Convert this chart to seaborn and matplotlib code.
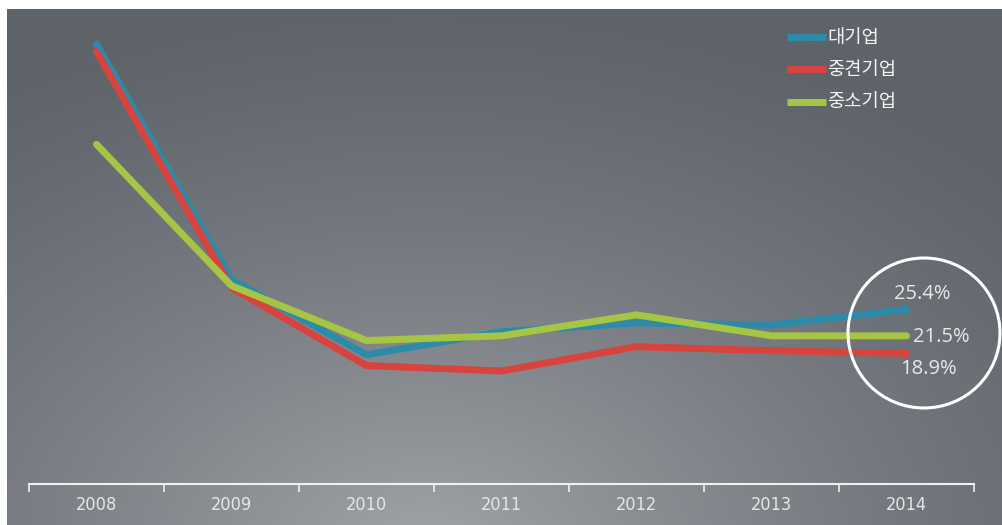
import matplotlib
matplotlib.use("Agg")
import matplotlib.pyplot as plt
import matplotlib.patches as mpatches
import numpy as np
import pandas as pd
import seaborn as sns

sns.set_style("white")
plt.rcParams["font.family"] = ["Noto Sans CJK KR", "DejaVu Sans"]

years = ["2008", "2009", "2010", "2011", "2012", "2013", "2014"]
large = [64.6, 29.8, 18.7, 22.1, 23.4, 23.1, 25.4]
middle = [63.5, 28.6, 17.1, 16.3, 19.9, 19.3, 18.9]
small = [49.8, 28.9, 20.8, 21.5, 24.6, 21.5, 21.5]
series_names = ["대기업", "중견기업", "중소기업"]
end_labels = ["25.4%", "21.5%", "18.9%"]

colors = ["#2b8ba9", "#d8433e", "#a6c544"]

df = pd.DataFrame({
    "year": list(range(len(years))) * 3,
    "value": large + middle + small,
    "group": np.repeat(series_names, len(years)),
})

W, H = 1003, 525
fig = plt.figure(figsize=(W / 100, H / 100), dpi=100)
fig.patch.set_facecolor("white")

# gradient background (dark top, lighter bottom centre)
bg = fig.add_axes([7 / W, 0, 1 - 7 / W, 1 - 9 / H])
bg.set_axis_off()
ny, nx = 200, 400
yy, xx = np.mgrid[0:1:ny * 1j, 0:1:nx * 1j]
dist = np.sqrt(((xx - 0.42) * 1.3) ** 2 + ((yy - 1.05) * 1.0) ** 2)
t = np.clip(1 - dist / 1.1, 0, 1) ** 1.3
dark = np.array([94, 99, 106]) / 255
light = np.array([160, 163, 167]) / 255
img = dark[None, None, :] * (1 - t[..., None]) + light[None, None, :] * t[..., None]
bg.imshow(img, aspect="auto", extent=[0, 1, 0, 1], origin="upper")
bg.set_xlim(0, 1)
bg.set_ylim(0, 1)

ax = fig.add_axes([29 / W, (H - 484) / H, 945 / W, 475 / H])
ax.patch.set_alpha(0)
sns.lineplot(data=df, x="year", y="value", hue="group", palette=colors,
             linewidth=5, ax=ax, legend=False, solid_capstyle="round")

ax.set_xlim(-0.5, len(years) - 0.5)
ax.set_ylim(-0.4, 69.8)
for s in ["top", "right", "left"]:
    ax.spines[s].set_visible(False)
ax.spines["bottom"].set_color("#f0f0f0")
ax.spines["bottom"].set_linewidth(1.5)
ax.set_yticks([])
ax.set_xticks(range(len(years)))
ax.set_xticklabels(years, fontsize=13, color="#e6e6e6",
                   family="DejaVu Sans", fontstretch="condensed")
ax.tick_params(axis="x", which="major", length=0, pad=9, bottom=True)
ax.set_xticks(np.arange(-0.5, len(years)), minor=True)
ax.tick_params(axis="x", which="minor", length=6, width=1.2, color="#f0f0f0",
               direction="out", bottom=True)
ax.set_xlabel("")
ax.set_ylabel("")

# legend
leg_y = [37, 69, 102]
for name, c, y in zip(series_names, colors, leg_y):
    fy = 1 - y / H
    fig.add_artist(plt.Line2D([787 / W, 826 / W], [fy, fy], color=c, lw=5,
                              solid_capstyle="butt", transform=fig.transFigure))
    fig.text(827 / W, fy, name, color="#f2f2f2", fontsize=13.5, va="center", ha="left")

# end value labels
num_font = ["Open Sans", "DejaVu Sans"]
fig.text(922 / W, 1 - 294 / H, end_labels[0], color="#e8e8e8", fontsize=14.5,
         ha="center", va="center", family=num_font)
fig.text(913 / W, 1 - 337 / H, end_labels[1], color="#e8e8e8", fontsize=14.5,
         ha="left", va="center", family=num_font)
fig.text(928 / W, 1 - 369 / H, end_labels[2], color="#e8e8e8", fontsize=14.5,
         ha="center", va="center", family=num_font)

circle = mpatches.Ellipse((924 / W, 1 - 333 / H), 152 / W, 150 / H, transform=fig.transFigure,
                          fill=False, edgecolor="white", linewidth=2.2)
fig.add_artist(circle)

fig.savefig("out.png", dpi=100)
